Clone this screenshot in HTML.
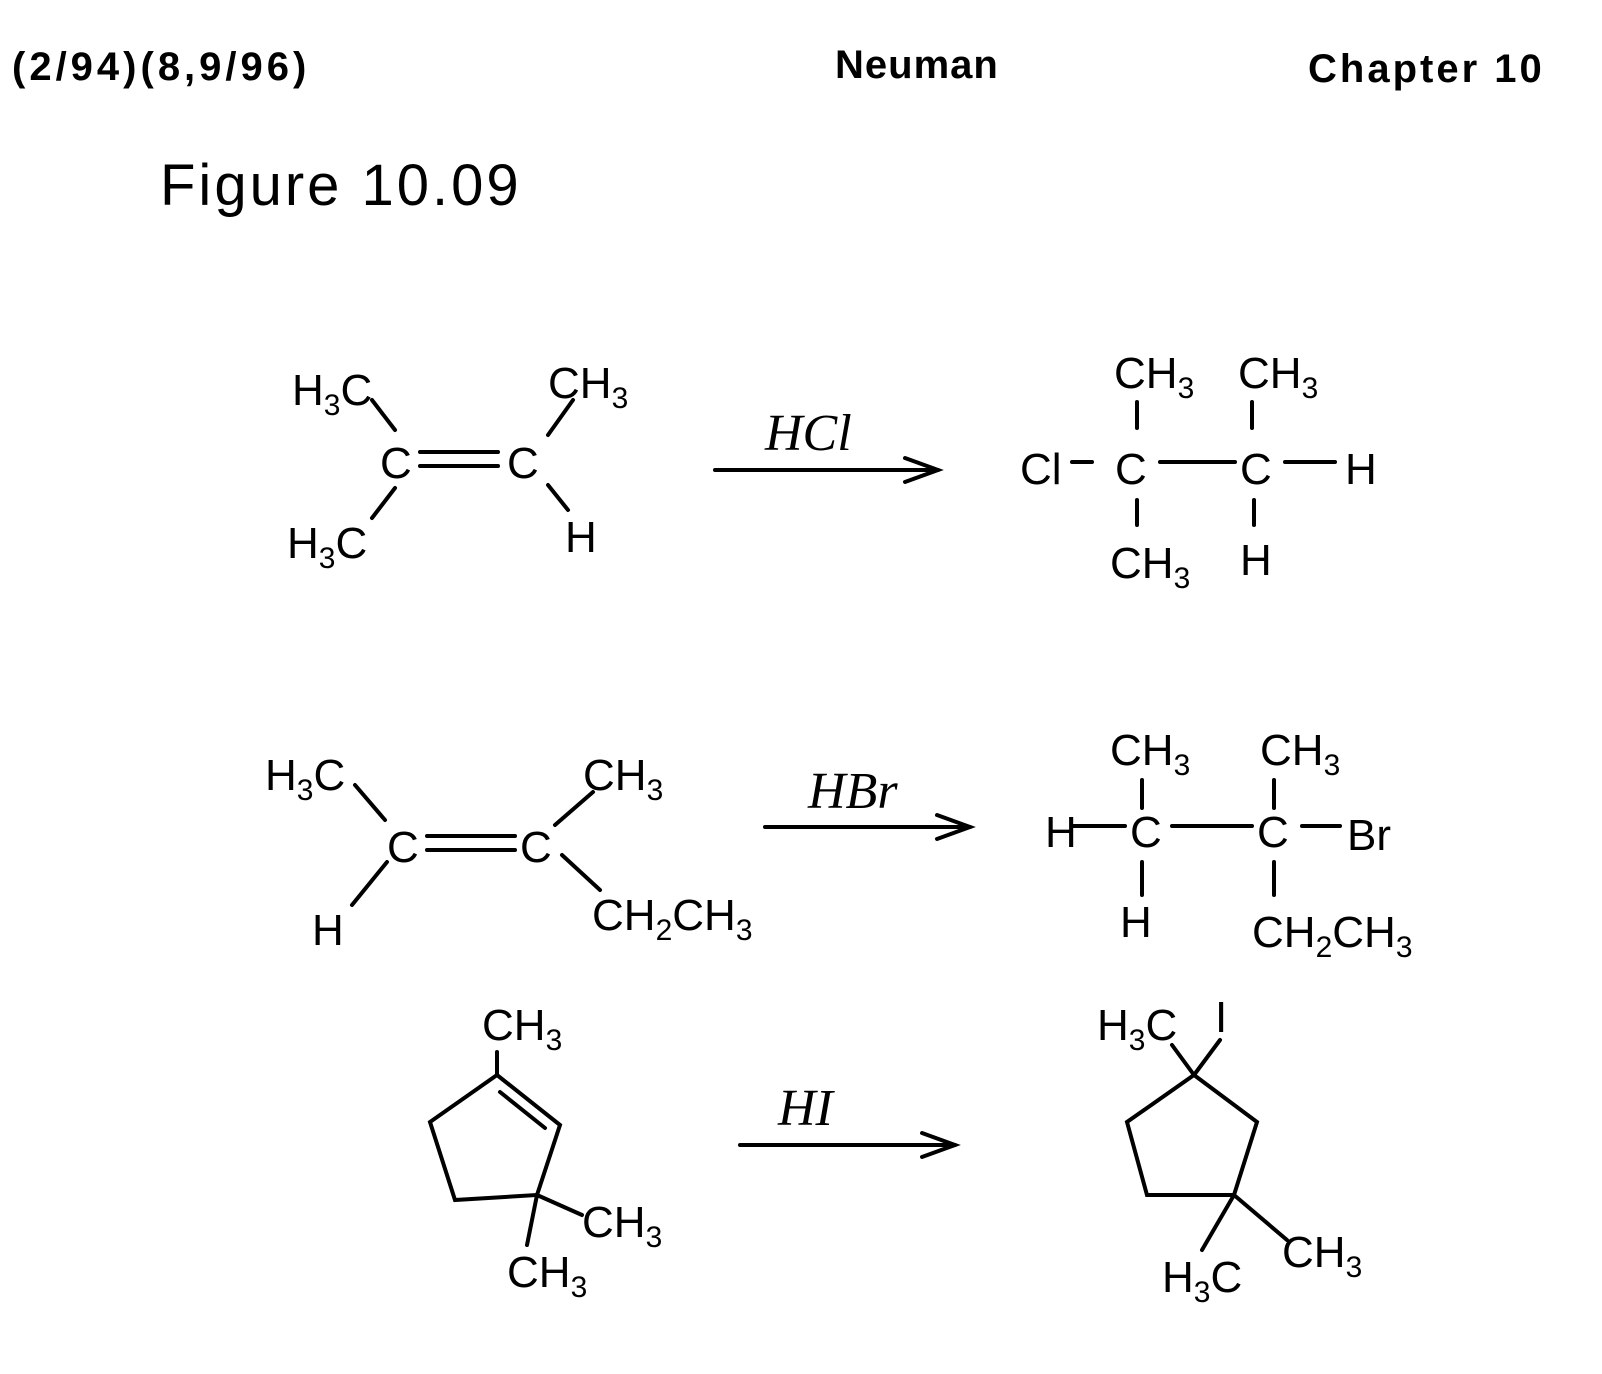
<!DOCTYPE html>
<html><head><meta charset="utf-8"><style>
html,body{margin:0;padding:0;background:#fff;}
svg{display:block}
.h{font-family:"Liberation Sans",sans-serif;font-weight:bold;font-size:40px;fill:#000}
.f{font-family:"Liberation Sans",sans-serif;font-size:58px;fill:#000;letter-spacing:3px}
.t{font-family:"Liberation Sans",sans-serif;font-size:44px;fill:#000}
.r{font-family:"Liberation Serif",serif;font-style:italic;font-size:52px;fill:#000}
line,polyline,polygon{stroke:#000;stroke-width:4;fill:none;stroke-linecap:round}
</style></head><body>
<svg width="1602" height="1374" viewBox="0 0 1602 1374" xmlns="http://www.w3.org/2000/svg">
<text class="h" x="12" y="80" letter-spacing="4">(2/94)(8,9/96)</text>
<text class="h" x="835" y="78" letter-spacing="1">Neuman</text>
<text class="h" x="1308" y="82" letter-spacing="3">Chapter 10</text>
<text class="f" x="160" y="205">Figure 10.09</text>

<!-- Reaction 1 -->
<text class="t" x="292" y="405">H<tspan font-size="30" dy="10">3</tspan><tspan dy="-10">C</tspan></text>
<text class="t" x="548" y="398">CH<tspan font-size="30" dy="10">3</tspan></text>
<line x1="372" y1="400" x2="395" y2="430"/>
<line x1="372" y1="518" x2="395" y2="488"/>
<text class="t" x="380" y="478">C</text>
<line x1="420" y1="452" x2="498" y2="452"/><line x1="420" y1="466" x2="498" y2="466"/>
<text class="t" x="507" y="478">C</text>
<text class="t" x="287" y="558">H<tspan font-size="30" dy="10">3</tspan><tspan dy="-10">C</tspan></text>
<text class="t" x="565" y="552">H</text>
<line x1="548" y1="435" x2="573" y2="400"/><line x1="548" y1="485" x2="568" y2="510"/>
<line x1="715" y1="470" x2="938" y2="470"/><polyline points="905,458 938,470 905,482"/>
<text class="r" x="765" y="450">HCl</text>
<text class="t" x="1114" y="388">CH<tspan font-size="30" dy="10">3</tspan></text>
<text class="t" x="1238" y="388">CH<tspan font-size="30" dy="10">3</tspan></text>
<line x1="1137" y1="402" x2="1137" y2="428"/><line x1="1252" y1="402" x2="1252" y2="428"/>
<text class="t" x="1020" y="484">Cl</text>
<line x1="1072" y1="462" x2="1092" y2="462"/>
<text class="t" x="1115" y="484">C</text>
<line x1="1160" y1="462" x2="1235" y2="462"/>
<text class="t" x="1240" y="484">C</text>
<line x1="1285" y1="462" x2="1335" y2="462"/>
<text class="t" x="1345" y="484">H</text>
<line x1="1137" y1="500" x2="1137" y2="525"/><line x1="1254" y1="500" x2="1254" y2="525"/>
<text class="t" x="1110" y="578">CH<tspan font-size="30" dy="10">3</tspan></text>
<text class="t" x="1240" y="575">H</text>

<!-- Reaction 2 -->
<text class="t" x="265" y="790">H<tspan font-size="30" dy="10">3</tspan><tspan dy="-10">C</tspan></text>
<text class="t" x="583" y="790">CH<tspan font-size="30" dy="10">3</tspan></text>
<line x1="355" y1="785" x2="385" y2="820"/><line x1="593" y1="792" x2="555" y2="825"/>
<text class="t" x="387" y="862">C</text>
<line x1="427" y1="836" x2="515" y2="836"/><line x1="427" y1="850" x2="515" y2="850"/>
<text class="t" x="520" y="862">C</text>
<line x1="387" y1="862" x2="352" y2="905"/><line x1="562" y1="855" x2="600" y2="890"/>
<text class="t" x="312" y="945">H</text>
<text class="t" x="592" y="930">CH<tspan font-size="30" dy="10">2</tspan><tspan dy="-10">CH</tspan><tspan font-size="30" dy="10">3</tspan></text>
<line x1="765" y1="827" x2="970" y2="827"/><polyline points="937,815 970,827 937,839"/>
<text class="r" x="808" y="808">HBr</text>
<text class="t" x="1110" y="765">CH<tspan font-size="30" dy="10">3</tspan></text>
<text class="t" x="1260" y="765">CH<tspan font-size="30" dy="10">3</tspan></text>
<line x1="1142" y1="780" x2="1142" y2="808"/><line x1="1274" y1="780" x2="1274" y2="808"/>
<text class="t" x="1045" y="847">H</text>
<line x1="1072" y1="826" x2="1125" y2="826"/>
<text class="t" x="1130" y="847">C</text>
<line x1="1172" y1="826" x2="1252" y2="826"/>
<text class="t" x="1257" y="847">C</text>
<line x1="1302" y1="826" x2="1340" y2="826"/>
<text class="t" x="1347" y="850">Br</text>
<line x1="1142" y1="862" x2="1142" y2="895"/><line x1="1274" y1="862" x2="1274" y2="895"/>
<text class="t" x="1120" y="937">H</text>
<text class="t" x="1252" y="947">CH<tspan font-size="30" dy="10">2</tspan><tspan dy="-10">CH</tspan><tspan font-size="30" dy="10">3</tspan></text>

<!-- Reaction 3 -->
<text class="t" x="482" y="1040">CH<tspan font-size="30" dy="10">3</tspan></text>
<line x1="497" y1="1052" x2="497" y2="1075"/>
<polygon points="497,1075 560,1125 537,1195 455,1200 430,1122"/>
<line x1="500" y1="1092" x2="545" y2="1128"/>
<line x1="537" y1="1195" x2="582" y2="1215"/><line x1="537" y1="1195" x2="527" y2="1245"/>
<text class="t" x="582" y="1237">CH<tspan font-size="30" dy="10">3</tspan></text>
<text class="t" x="507" y="1287">CH<tspan font-size="30" dy="10">3</tspan></text>
<line x1="740" y1="1145" x2="955" y2="1145"/><polyline points="922,1133 955,1145 922,1157"/>
<text class="r" x="778" y="1125">HI</text>
<text class="t" x="1097" y="1040">H<tspan font-size="30" dy="10">3</tspan><tspan dy="-10">C</tspan></text>
<text class="t" x="1215" y="1032">I</text>
<line x1="1172" y1="1045" x2="1194" y2="1075"/><line x1="1220" y1="1040" x2="1194" y2="1075"/>
<polygon points="1194,1075 1257,1122 1234,1195 1147,1195 1127,1122"/>
<line x1="1234" y1="1195" x2="1287" y2="1240"/><line x1="1234" y1="1195" x2="1202" y2="1250"/>
<text class="t" x="1282" y="1267">CH<tspan font-size="30" dy="10">3</tspan></text>
<text class="t" x="1162" y="1292">H<tspan font-size="30" dy="10">3</tspan><tspan dy="-10">C</tspan></text>
</svg>
</body></html>
